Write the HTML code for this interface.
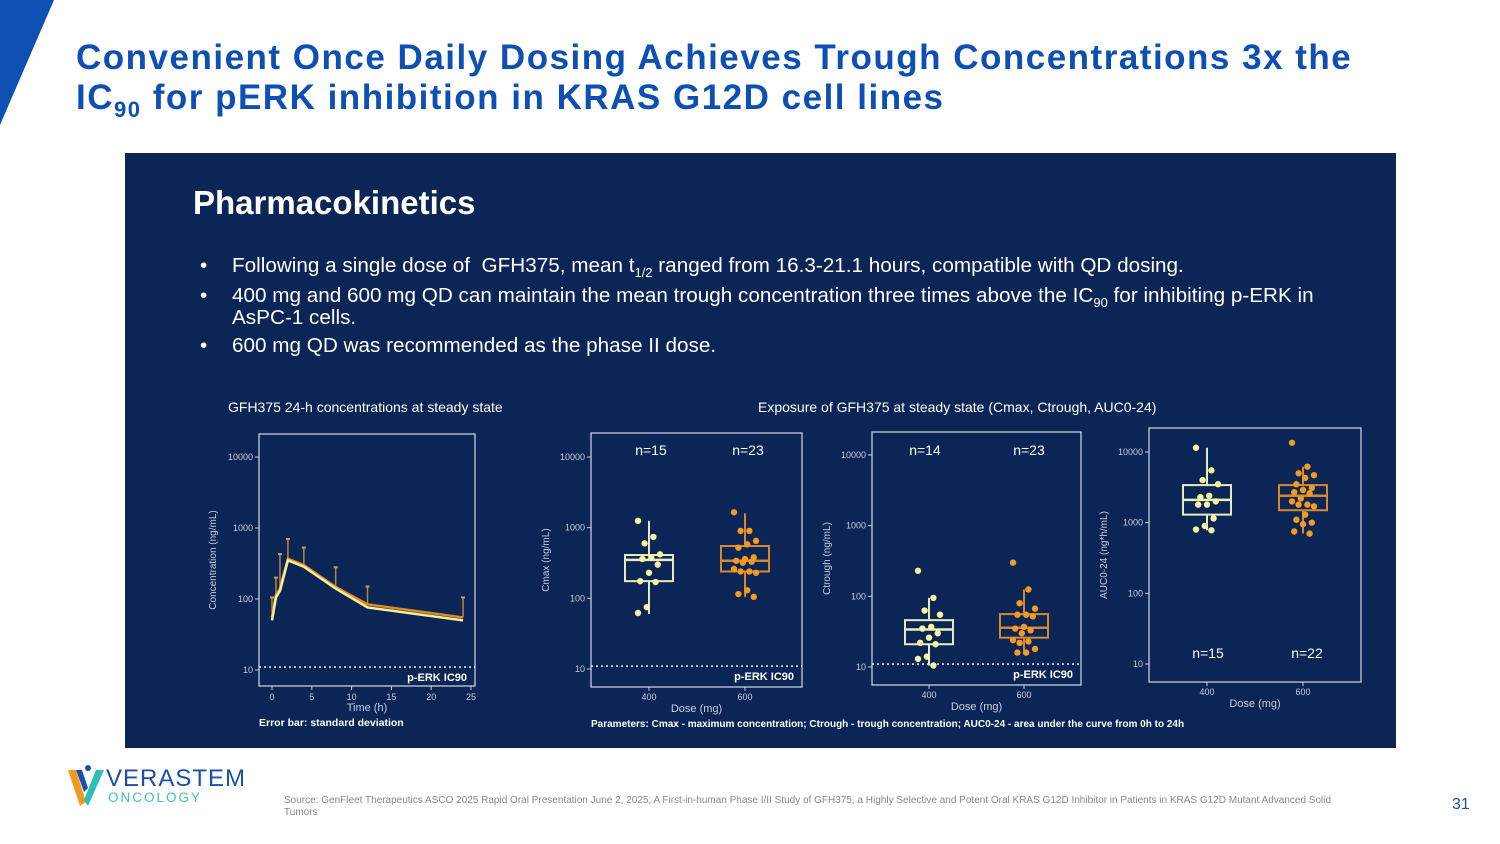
<!DOCTYPE html>
<html><head><meta charset="utf-8">
<style>
body{margin:0;width:1500px;height:844px;background:#fff;position:relative;overflow:hidden;font-family:"Liberation Sans",sans-serif}
.abs{position:absolute}
#title{left:76px;top:38px;font-size:35px;font-weight:bold;color:#0d4fb3;line-height:40px;letter-spacing:1.5px;white-space:nowrap}
#panel{left:125px;top:153px;width:1271px;height:595px;background:#0b2557}
.bul{color:#fff;font-size:20.7px;line-height:22px}
.bul sub{font-size:13px;line-height:0;vertical-align:0;position:relative;top:5px}
</style></head><body>
<svg class="abs" style="left:0;top:0" width="60" height="130"><polygon points="0,0 54,0 0,125" fill="#0d4fb3"/></svg>
<div id="title" class="abs">Convenient Once Daily Dosing Achieves Trough Concentrations 3x the<br>IC<sub style="font-size:22px">90</sub> for pERK inhibition in KRAS G12D cell lines</div>
<div id="panel" class="abs"></div>
<div class="abs" style="left:193px;top:184px;font-size:33px;font-weight:bold;color:#fff">Pharmacokinetics</div>
<div class="abs bul" style="left:200px;top:255px">•<span style="position:absolute;left:32px;white-space:nowrap">Following a single dose of&nbsp; GFH375, mean t<sub>1/2</sub> ranged from 16.3-21.1 hours, compatible with QD dosing.</span></div>
<div class="abs bul" style="left:200px;top:285px">•<span style="position:absolute;left:32px;width:1100px">400 mg and 600 mg QD can maintain the mean trough concentration three times above the IC<sub>90</sub> for inhibiting p-ERK in AsPC-1 cells.</span></div>
<div class="abs bul" style="left:200px;top:335px">•<span style="position:absolute;left:32px;white-space:nowrap">600 mg QD was recommended as the phase II dose.</span></div>
<svg id="charts" class="abs" style="left:0;top:0" width="1500" height="844"></svg>
<div class="abs" style="left:66px;top:764px">
<svg width="40" height="44"><polygon points="2,6 10,6 20,38 14,42" fill="#f39a1e"/><polygon points="38,6 30,6 18,36 22,42" fill="#2bbfb8"/><polygon points="10,6 16,6 22,24 18,28" fill="#1a4fb0"/><circle cx="22" cy="4" r="3" fill="#1a4fb0"/></svg>
<div class="abs" style="left:40px;top:1px;font-size:24px;color:#1a4fa8;letter-spacing:1px;white-space:nowrap">VERASTEM</div>
<div class="abs" style="left:42px;top:26px;font-size:13.5px;color:#3cc4bc;letter-spacing:2px">ONCOLOGY</div></div>
<div class="abs" style="left:284px;top:795px;font-size:10px;color:#888;width:1060px;line-height:12px">Source: GenFleet Therapeutics ASCO 2025 Rapid Oral Presentation June 2, 2025; A First-in-human Phase I/II Study of GFH375, a Highly Selective and Potent Oral KRAS G12D Inhibitor in Patients in KRAS G12D Mutant Advanced Solid Tumors</div>
<div class="abs" style="left:1452px;top:796px;font-size:16px;color:#1a4fb0">31</div>
<script>
// PK curve data
const pkTimes=[0,0.5,1,2,4,8,12,24];
const pkMean400=[50,105,130,350,285,140,76,50];
const pkMean600=[55,115,140,370,300,148,84,55];
const pkSDTop=[105,200,430,700,530,280,150,105];
// Box plot data: [q1, median, q3, whiskerLow, whiskerHigh]
const cmax400=[175,350,410,60,1250];
const cmax600=[240,340,550,105,1600];
const ctr400=[21,34,46,10.5,95];
const ctr600=[26,36,56,15,125];
const auc400=[1300,2100,3400,780,11500];
const auc600=[1500,2400,3400,700,6200];
const cmaxPts400=[1250,740,600,420,380,360,300,230,175,170,75,62];
const cmaxPts600=[1650,900,900,650,580,520,380,360,340,330,320,260,240,240,230,130,115,105];
const ctrPts400=[230,95,63,55,37,35,30,26,22,21,14,13,10.5];
const ctrPts600=[300,125,80,67,55,55,52,37,35,33,30,24,23,22,18,16,16];
const aucPts400=[11500,5500,4000,3500,2400,2300,2000,1800,1800,1150,900,800,780];
const aucPts600=[13500,6200,5000,4700,4300,3500,3100,2900,2700,2600,2200,2000,1800,1800,1700,1300,1100,1000,950,750,700];
const yTicks=[10,100,1000,10000];
const xTicksPK=[0,5,10,15,20,25];

const S=document.getElementById('charts');const NS='http://www.w3.org/2000/svg';
function mk(t,a,txt){const e=document.createElementNS(NS,t);for(const k in a)e.setAttribute(k,a[k]);if(txt!==undefined)e.textContent=txt;S.appendChild(e);return e;}
const AX='#c9cdd8';
function frame(f,name){const r=mk('rect',{x:f.x0,y:f.top,width:f.x1-f.x0,height:f.bot-f.top,fill:'none',stroke:AX,'stroke-width':1.3});

yTicks.forEach(v=>{const y=f.y(v);mk('line',{x1:f.x0-4,x2:f.x0,y1:y,y2:y,stroke:AX});
const t=mk('text',{x:f.x0-6,y:y+3,'font-size':9,fill:AX,'text-anchor':'end'},v);
});}
function logY(t10k,t10){return v=>t10-(Math.log10(v)-1)*(t10-t10k)/3;}
function ic90(f){const y=f.y(11);mk('line',{x1:f.x0,x2:f.x1,y1:y,y2:y,stroke:'#fff','stroke-dasharray':'2 3','stroke-width':1.3});
const t=mk('text',{x:f.x1-8,y:y+14,'font-size':11,'font-weight':'bold',fill:'#fff','text-anchor':'end'},'p-ERK IC90');
}
function label(x,y,txt,size,name,extra){const t=mk('text',Object.assign({x:x,y:y,'font-size':size,fill:'#fff'},extra||{}),txt);return t;}

// Chart 1 PK
const f1={x0:259,x1:475,top:434,bot:686,y:logY(457,670)};const x1=v=>272+v*7.96;
frame(f1,'pk-chart');
xTicksPK.forEach(v=>{mk('line',{x1:x1(v),x2:x1(v),y1:f1.bot,y2:f1.bot+4,stroke:AX});label(x1(v),f1.bot+14,v,9,'x-tick-label',{'text-anchor':'middle',fill:AX});});
ic90(f1);
pkTimes.forEach((t,i)=>{const x=x1(t);const l=mk('line',{x1:x,x2:x,y1:f1.y(pkMean600[i]),y2:f1.y(pkSDTop[i]),stroke:'#b08a40','stroke-width':1.5});
mk('line',{x1:x-2,x2:x+2,y1:f1.y(pkSDTop[i]),y2:f1.y(pkSDTop[i]),stroke:'#c9a050','stroke-width':2});});
[[pkMean600,'#e08a20'],[pkMean400,'#f6f09a']].forEach(([d,c],k)=>{const p=mk('polyline',{points:pkTimes.map((t,i)=>x1(t)+','+f1.y(d[i])).join(' '),fill:'none',stroke:c,'stroke-width':2.5});
});
label(367,711,'Time (h)',11,'x-axis-title',{'text-anchor':'middle',fill:AX});
label(216,560,'Concentration (ng/mL)',10,'y-axis-title',{'text-anchor':'middle',fill:AX,transform:'rotate(-90 216 560)'});
label(228,412,'GFH375 24-h concentrations at steady state',14,'pk-chart-title');
label(259,726,'Error bar: standard deviation',10.5,'error-bar-note',{'font-weight':'bold'});

function boxChart(f,xa,xb,b4,b6,p4,p6,name,yt){
 frame(f,name);
 [[xa,'400'],[xb,'600']].forEach(([x,t])=>{mk('line',{x1:x,x2:x,y1:f.bot,y2:f.bot+4,stroke:AX});label(x,f.bot+13,t,9,'x-tick-label',{'text-anchor':'middle',fill:AX});});
 label((f.x0+f.x1)/2,f.bot+25,'Dose (mg)',11,'x-axis-title',{'text-anchor':'middle',fill:AX});
 const yc=(f.top+f.bot)/2;label(f.x0-42,yc,yt,10,'y-axis-title',{'text-anchor':'middle',fill:AX,transform:'rotate(-90 '+(f.x0-42)+' '+yc+')'});
 [[xa,b4,p4,'#e8edc0','#f8f4a0','400mg'],[xb,b6,p6,'#d6892c','#f39a22','600mg']].forEach(([x,b,p,sc,dc,n])=>{
  const w=mk('line',{x1:x,x2:x,y1:f.y(b[3]),y2:f.y(b[4]),stroke:sc,'stroke-width':2});
  
  const r=mk('rect',{x:x-24,y:f.y(b[2]),width:48,height:f.y(b[0])-f.y(b[2]),fill:'#0b2557',stroke:sc,'stroke-width':2});
  
  mk('line',{x1:x-24,x2:x+24,y1:f.y(b[1]),y2:f.y(b[1]),stroke:sc,'stroke-width':2.5});
  p.forEach((v,i)=>{const c=mk('circle',{cx:x+(((i*7)%11)-5)*2.2,cy:f.y(v),r:3.2,fill:dc});
   });
 });}
const f2={x0:591,x1:802,top:433,bot:687,y:logY(457,669)};
boxChart(f2,649,745,cmax400,cmax600,cmaxPts400,cmaxPts600,'cmax-chart','Cmax (ng/mL)');ic90(f2);
label(651,455,'n=15',14,'n-label',{'text-anchor':'middle'});label(748,455,'n=23',14,'n-label',{'text-anchor':'middle'});
const f3={x0:872,x1:1081,top:432,bot:685,y:logY(455,667)};
boxChart(f3,929,1024,ctr400,ctr600,ctrPts400,ctrPts600,'ctrough-chart','Ctrough (ng/mL)');ic90(f3);
label(925,455,'n=14',14,'n-label',{'text-anchor':'middle'});label(1029,455,'n=23',14,'n-label',{'text-anchor':'middle'});
const f4={x0:1149,x1:1361,top:428,bot:682,y:logY(452,664)};
boxChart(f4,1207,1303,auc400,auc600,aucPts400,aucPts600,'auc-chart','AUC0-24 (ng*h/mL)');
label(1208,658,'n=15',14,'n-label',{'text-anchor':'middle'});label(1307,658,'n=22',14,'n-label',{'text-anchor':'middle'});
label(758,412,'Exposure of GFH375 at steady state  (Cmax, Ctrough, AUC0-24)',14,'exposure-title');
label(591,727,'Parameters: Cmax - maximum concentration; Ctrough - trough concentration; AUC0-24 - area under the curve from 0h to 24h',10,'parameters-note',{'font-weight':'bold'});
</script>
</body></html>
